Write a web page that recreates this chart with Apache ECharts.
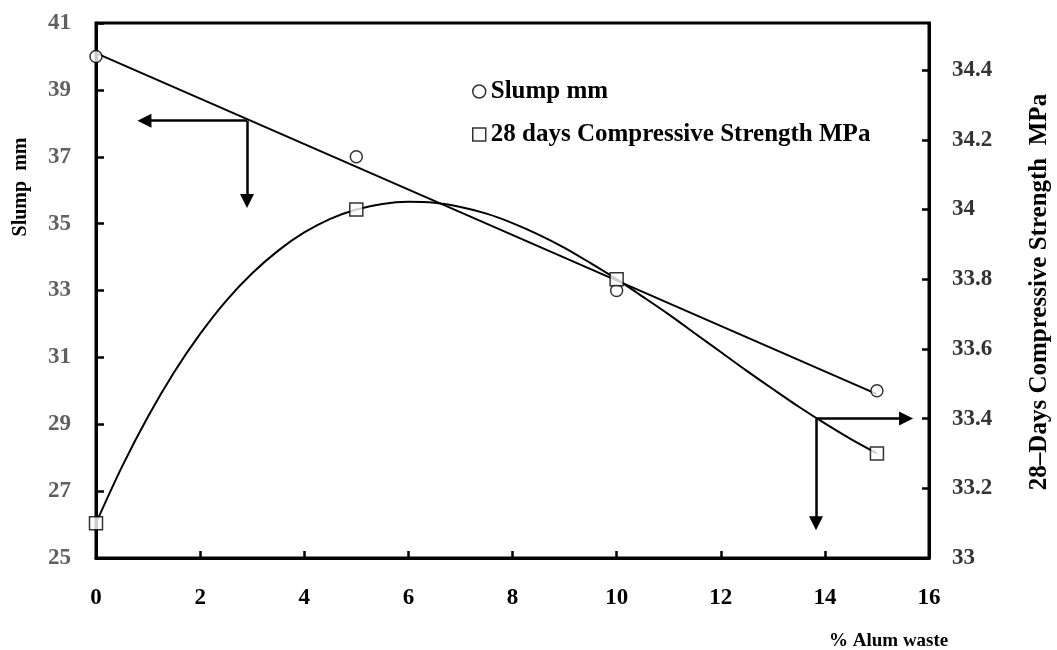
<!DOCTYPE html>
<html>
<head>
<meta charset="utf-8">
<script src="https://cdn.jsdelivr.net/npm/echarts@6/dist/echarts.min.js"></script>
<style>
html,body{margin:0;padding:0;background:#fff;}
#c{width:1057px;height:650px;}
</style>
</head>
<body>
<div id="c"></div>
<script>
// ---- data ----
var alumPct = [0, 5, 10, 15];
var slump = [40, 37, 33, 30];
var strength = [33.1, 34.0, 33.8, 33.3];

// linear trend line of slump (end points)
var slumpTrendX = [0, 15];
var slumpTrendY = [40.1, 29.9];

// polynomial trend of strength
var strTrendX = [0, 0.5, 1, 1.5, 2, 2.5, 3, 3.5, 4, 4.5, 5, 5.5, 6, 6.5, 7, 7.5, 8, 8.5, 9, 9.5, 10, 10.5, 11, 11.5, 12, 12.5, 13, 13.5, 14, 14.5, 15];
var strTrendY = [33.100, 33.262, 33.406, 33.533, 33.643, 33.738, 33.817, 33.882, 33.934, 33.973, 34.000, 34.016, 34.022, 34.019, 34.007, 33.988, 33.961, 33.928, 33.890, 33.846, 33.800, 33.750, 33.699, 33.645, 33.591, 33.537, 33.485, 33.434, 33.386, 33.341, 33.300];

// annotation arrows (junction, tip A, tip B) in data units
var arrowSlump = {junction: [2.9, 38.08], tipA: [0.93, 38.08], tipB: [2.9, 35.68]};      // left axis
var arrowStr = {junction: [13.83, 33.40], tipA: [15.56, 33.40], tipB: [13.83, 33.10]};    // right axis

var xTicks = {min: 0, max: 16, interval: 2};
var yLeftTicks = {min: 25, max: 41, interval: 2};
var yRightTicks = {min: 33, max: 34.535, interval: 0.2};

var legendNames = ['Slump mm', '28 days Compressive Strength MPa'];
var xTitle = '% Alum waste';
var yLeftTitle = 'Slump  mm';
var yRightTitle = '28\u2013Days Compressive Strength  MPa';

// ---- chart ----
var FONT = '"Liberation Serif", "Times New Roman", serif';
function zip(a, b) { return a.map(function (v, i) { return [v, b[i]]; }); }

var chart = echarts.init(document.getElementById('c'), null, {renderer: 'canvas'});
var axisLineStyle = {color: '#000', width: 3};

var option = {
  animation: false,
  backgroundColor: '#fff',
  grid: {left: 96, right: 128, top: 23, bottom: 92, show: true, borderColor: '#000', borderWidth: 3, backgroundColor: 'transparent'},
  xAxis: {
    type: 'value', min: xTicks.min, max: xTicks.max, interval: xTicks.interval,
    axisLine: {show: true, onZero: false, lineStyle: axisLineStyle},
    axisTick: {show: true, inside: true, length: 7, lineStyle: {color: '#000', width: 2.5}},
    splitLine: {show: false},
    axisLabel: {margin: 29, color: '#000', fontFamily: FONT, fontWeight: 'bold', fontSize: 23}
  },
  yAxis: [{
    type: 'value', position: 'left', min: yLeftTicks.min, max: yLeftTicks.max, interval: yLeftTicks.interval,
    axisLine: {show: true, lineStyle: axisLineStyle},
    axisTick: {show: true, inside: true, length: 8, lineStyle: {color: '#000', width: 2.5}},
    splitLine: {show: false},
    axisLabel: {margin: 25, color: '#606060', fontFamily: FONT, fontWeight: 'bold', fontSize: 23}
  }, {
    type: 'value', position: 'right', min: yRightTicks.min, max: yRightTicks.max, interval: yRightTicks.interval,
    axisLine: {show: true, lineStyle: axisLineStyle},
    axisTick: {show: true, inside: true, length: 7, lineStyle: {color: '#000', width: 2.5}},
    splitLine: {show: false},
    axisLabel: {margin: 23, color: '#333', fontFamily: FONT, fontWeight: 'bold', fontSize: 23, showMaxLabel: false,
      formatter: function (v) { return String(Math.round(v * 10) / 10); }}
  }],
  legend: {
    orient: 'vertical', left: 467, top: 74, itemGap: 18, itemWidth: 13, itemHeight: 13,
    textStyle: {fontFamily: FONT, fontWeight: 'bold', fontSize: 25, color: '#000'},
    data: [
      {name: legendNames[0], icon: 'circle', itemStyle: {color: '#fff', borderColor: '#000', borderWidth: 1.5}},
      {name: legendNames[1], icon: 'rect', itemStyle: {color: '#fff', borderColor: '#000', borderWidth: 1.5}}
    ]
  },
  graphic: [
    {type: 'text', left: 829, top: 632, style: {text: xTitle, fontFamily: FONT, fontWeight: 'bold', fontSize: 19, fill: '#000'}},
    {type: 'text', x: 21, y: 187, rotation: Math.PI / 2, style: {text: yLeftTitle, fontFamily: FONT, fontWeight: 'bold', fontSize: 20, fill: '#000', align: 'center', verticalAlign: 'middle'}},
    {type: 'text', x: 1040, y: 292, rotation: Math.PI / 2, style: {text: yRightTitle, fontFamily: FONT, fontWeight: 'bold', fontSize: 25, fill: '#000', align: 'center', verticalAlign: 'middle'}}
  ],
  series: [
    {
      name: 'slumpTrend', type: 'line', yAxisIndex: 0, data: zip(slumpTrendX, slumpTrendY),
      showSymbol: false, symbol: 'none', lineStyle: {color: '#000', width: 2}, silent: true, z: 2,
      markLine: {
        silent: true, symbol: ['none', 'triangle'], symbolSize: 14, label: {show: false},
        lineStyle: {color: '#000', width: 2.5, type: 'solid'},
        data: [
          [{coord: arrowSlump.junction}, {coord: arrowSlump.tipA}],
          [{coord: arrowSlump.junction}, {coord: arrowSlump.tipB}]
        ]
      }
    },
    {
      name: 'strTrend', type: 'line', yAxisIndex: 1, data: zip(strTrendX, strTrendY), smooth: 0.3,
      showSymbol: false, symbol: 'none', lineStyle: {color: '#000', width: 2}, silent: true, z: 2,
      markLine: {
        silent: true, symbol: ['none', 'triangle'], symbolSize: 14, label: {show: false},
        lineStyle: {color: '#000', width: 2.5, type: 'solid'},
        data: [
          [{coord: arrowStr.junction}, {coord: arrowStr.tipA}],
          [{coord: arrowStr.junction}, {coord: arrowStr.tipB}]
        ]
      }
    },
    {
      name: legendNames[0], type: 'scatter', yAxisIndex: 0, data: zip(alumPct, slump),
      symbol: 'circle', symbolSize: 12, itemStyle: {color: '#fff', borderColor: '#000', borderWidth: 1.5}, z: 5
    },
    {
      name: legendNames[1], type: 'scatter', yAxisIndex: 1, data: zip(alumPct, strength),
      symbol: 'rect', symbolSize: 13, itemStyle: {color: '#fff', borderColor: '#000', borderWidth: 1.5}, z: 5
    }
  ]
};
chart.setOption(option);
</script>
</body>
</html>
